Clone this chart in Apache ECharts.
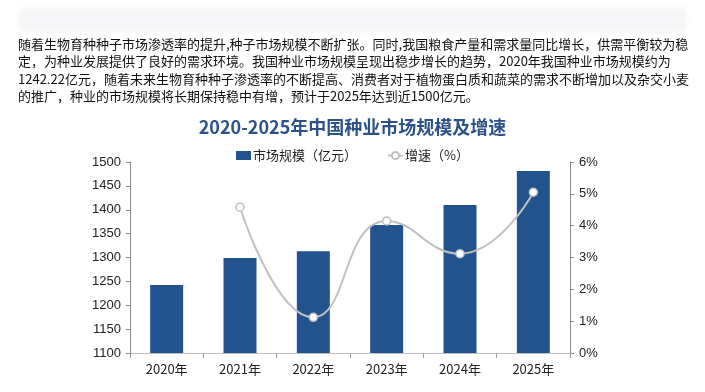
<!DOCTYPE html>
<html>
<head>
<meta charset="utf-8">
<script src="https://cdn.jsdelivr.net/npm/echarts@6/dist/echarts.min.js"></script>
<style>
html,body{margin:0;padding:0;background:#fff;}
#chart{width:705px;height:392px;}
</style>
</head>
<body>
<div id="chart"></div>
<script>
var categories = ['2020年', '2021年', '2022年', '2023年', '2024年', '2025年'];
var marketSize = [1242.22, 1299, 1313, 1368, 1410, 1481];
var growthRate = [null, 4.58, 1.12, 4.15, 3.12, 5.05];
var leftTicks = { min: 1100, max: 1500, interval: 50 };
var rightTicks = { min: 0, max: 6, interval: 1 };
var introLines = [
  '随着生物育种种子市场渗透率的提升,种子市场规模不断扩张。同时,我国粮食产量和需求量同比增长，供需平衡较为稳',
  '定，为种业发展提供了良好的需求环境。我国种业市场规模呈现出稳步增长的趋势，2020年我国种业市场规模约为',
  '1242.22亿元，随着未来生物育种种子渗透率的不断提高、消费者对于植物蛋白质和蔬菜的需求不断增加以及杂交小麦',
  '的推广，种业的市场规模将长期保持稳中有增，预计于2025年达到近1500亿元。'
];
var titleText = '2020-2025年中国种业市场规模及增速';

var font = '"Noto Sans CJK SC", "Noto Sans", sans-serif';
var graphics = [
  { type: 'rect', left: 20, top: 9, shape: { width: 665, height: 22 },
    style: { fill: '#f6f6f8', shadowBlur: 10, shadowColor: '#f4f4f6' }, z: 0 }
];
var lineY = [47, 64, 82, 99];
introLines.forEach(function (t, i) {
  graphics.push({
    type: 'text', left: 18, top: lineY[i] - 9,
    style: { text: t, fill: '#111', font: '13px ' + font }, z: 10
  });
});

var chart = echarts.init(document.getElementById('chart'));
chart.setOption({
  animation: false,
  backgroundColor: '#fff',
  graphic: graphics,
  title: {
    text: titleText, left: 'center', top: 113,
    textStyle: { color: '#2b5288', fontSize: 18, fontWeight: 'bold', fontFamily: font }
  },
  legend: {
    top: 144, left: 'center', itemGap: 30, itemWidth: 15, itemHeight: 9,
    textStyle: { color: '#222', fontSize: 13, fontFamily: font, padding: [0, 0, 0, -3] },
    data: [
      { name: '市场规模（亿元）', icon: 'rect' },
      { name: '增速（%）' }
    ]
  },
  grid: { left: 130, right: 135, top: 162, bottom: 39 },
  xAxis: {
    type: 'category', data: categories,
    axisLine: { lineStyle: { color: '#bfbfbf' } },
    axisTick: { show: true, length: 5, lineStyle: { color: '#999' } },
    axisLabel: { color: '#222', fontSize: 13, fontFamily: font, margin: 10 }
  },
  yAxis: [
    {
      type: 'value', min: leftTicks.min, max: leftTicks.max, interval: leftTicks.interval,
      splitLine: { show: false },
      axisLine: { show: true, lineStyle: { color: '#888' } },
      axisTick: { show: true, length: 4, lineStyle: { color: '#888' } },
      axisLabel: { color: '#222', fontSize: 13, fontFamily: 'Liberation Sans, Arial, sans-serif', margin: 9,
        formatter: function (v) { return String(v); } }
    },
    {
      type: 'value', min: rightTicks.min, max: rightTicks.max, interval: rightTicks.interval,
      splitLine: { show: false },
      axisLine: { show: true, lineStyle: { color: '#888' } },
      axisTick: { show: true, length: 4, lineStyle: { color: '#888' } },
      axisLabel: { color: '#222', fontSize: 13, fontFamily: 'Liberation Sans, Arial, sans-serif', margin: 9,
        formatter: '{value}%' }
    }
  ],
  series: [
    {
      name: '市场规模（亿元）', type: 'bar', data: marketSize, barWidth: 33,
      itemStyle: { color: '#22538f' }
    },
    {
      name: '增速（%）', type: 'line', yAxisIndex: 1, data: growthRate, smooth: true,
      symbol: 'circle', symbolSize: 8, connectNulls: false,
      lineStyle: { color: '#c0c0c0', width: 2 },
      itemStyle: { color: '#ffffff', borderColor: '#c0c0c0', borderWidth: 1.5 },
      z: 5
    }
  ]
});
</script>
</body>
</html>
